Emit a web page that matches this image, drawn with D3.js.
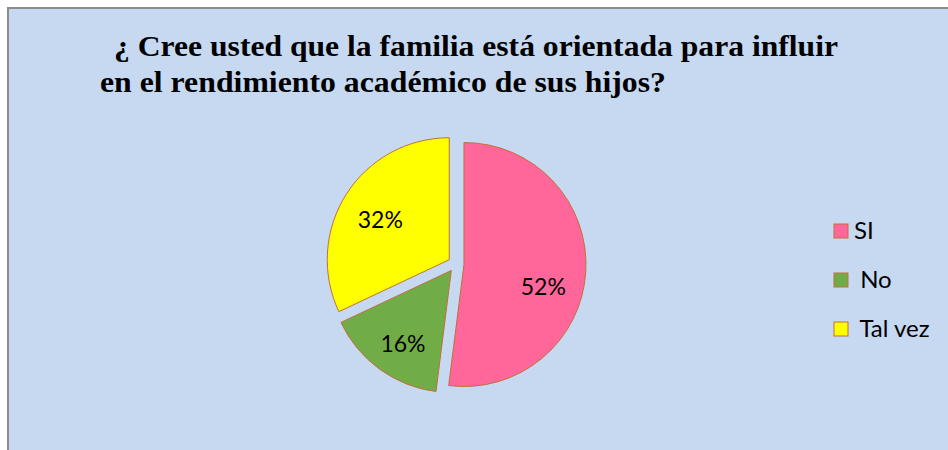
<!DOCTYPE html>
<html>
<head>
<meta charset="utf-8">
<script src="https://cdn.jsdelivr.net/npm/d3@7"></script>
<style>
  body { margin: 0; background: #fff; }
  svg { display: block; }
</style>
</head>
<body>
<div id="chart"></div>
<script>
'use strict';

const categories = ['SI', 'No', 'Tal vez'];
const values = [52, 16, 32];
const labels = ['52%', '16%', '32%'];
const legendNames = ['SI', ' No', ' Tal vez'];
const colors = ['#ff6699', '#70ad47', '#ffff00'];
const titleLines = [
    '\u00bf Cree usted que la familia est\u00e1 orientada para influir',
    'en el rendimiento acad\u00e9mico de sus hijos?'
];

const W = 948, H = 450;
const svg = d3.select('#chart').append('svg')
    .attr('width', W)
    .attr('height', H);

// panel with the grey top/left frame
svg.append('rect').attr('x', 0).attr('y', 0).attr('width', W).attr('height', H).style('fill', '#fff');
svg.append('rect').attr('x', 7).attr('y', 7).attr('width', W - 7).attr('height', H - 7).style('fill', '#8c8c8c');
svg.append('rect').attr('x', 9).attr('y', 9).attr('width', W - 9).attr('height', H - 9).style('fill', '#c6d9f1');

// title
const titleX = [114, 100], titleY = [56, 92], titleW = [724, 566];
svg.selectAll('text.title')
    .data(titleLines)
    .enter()
    .append('text')
        .attr('class', 'title')
        .attr('x', (d, i) => titleX[i])
        .attr('y', (d, i) => titleY[i])
        .attr('textLength', (d, i) => titleW[i])
        .attr('lengthAdjust', 'spacingAndGlyphs')
        .style('font-family', '"Times New Roman", Times, "Liberation Serif", Tinos, serif')
        .style('font-weight', 'bold')
        .style('font-size', '30px')
        .style('fill', '#000')
        .text(d => d);

// pie
const cx = 456, cy = 264, r = 122, explode = 8;
const pie = d3.pie().sort(null).value(d => d.value);
const arc = d3.arc().innerRadius(0).outerRadius(r);
const labelArc = d3.arc().innerRadius(0).outerRadius(r * 1.32);

const data = categories.map((c, i) => ({category: c, value: values[i], label: labels[i], color: colors[i]}));
const arcs = pie(data);

function shift(d) {
    const a = (d.startAngle + d.endAngle) / 2;
    return [Math.sin(a) * explode, -Math.cos(a) * explode];
}

const g = svg.append('g').attr('transform', `translate(${cx},${cy})`);

const slices = g.selectAll('g.slice')
    .data(arcs)
    .enter()
    .append('g')
        .attr('class', 'slice')
        .attr('transform', d => `translate(${shift(d)})`);

slices.append('path')
    .attr('d', arc)
    .style('fill', d => d.data.color)
    .style('stroke', '#c0703a')
    .style('stroke-width', 1);

// Excel "best fit" puts the big slice label a bit lower
const nudge = {SI: [-1, 16], No: [-1, 7], 'Tal vez': [-1, 2]};

slices.append('text')
    .attr('x', d => labelArc.centroid(d)[0] + nudge[d.data.category][0])
    .attr('y', d => labelArc.centroid(d)[1] + nudge[d.data.category][1])
    .attr('text-anchor', 'middle')
    .attr('dominant-baseline', 'central')
    .style('font-family', 'Lato, "Open Sans", sans-serif')
    .style('font-size', '23px')
    .style('fill', '#000')
    .text(d => d.data.label);

// legend
const legend = svg.append('g').attr('transform', 'translate(834,224)');
const item = legend.selectAll('g.item')
    .data(data)
    .enter()
    .append('g')
        .attr('class', 'item')
        .attr('transform', (d, i) => `translate(0,${i * 49})`);

item.append('rect')
    .attr('width', 14)
    .attr('height', 14)
    .style('fill', d => d.color)
    .style('stroke', '#c0703a')
    .style('stroke-width', 1);

item.append('text')
    .attr('x', 20)
    .attr('y', 15)
    .style('font-family', 'Lato, "Open Sans", sans-serif')
    .style('font-size', '24px')
    .style('white-space', 'pre')
    .attr('xml:space', 'preserve')
    .style('fill', '#000')
    .text((d, i) => legendNames[i]);
</script>
</body>
</html>
